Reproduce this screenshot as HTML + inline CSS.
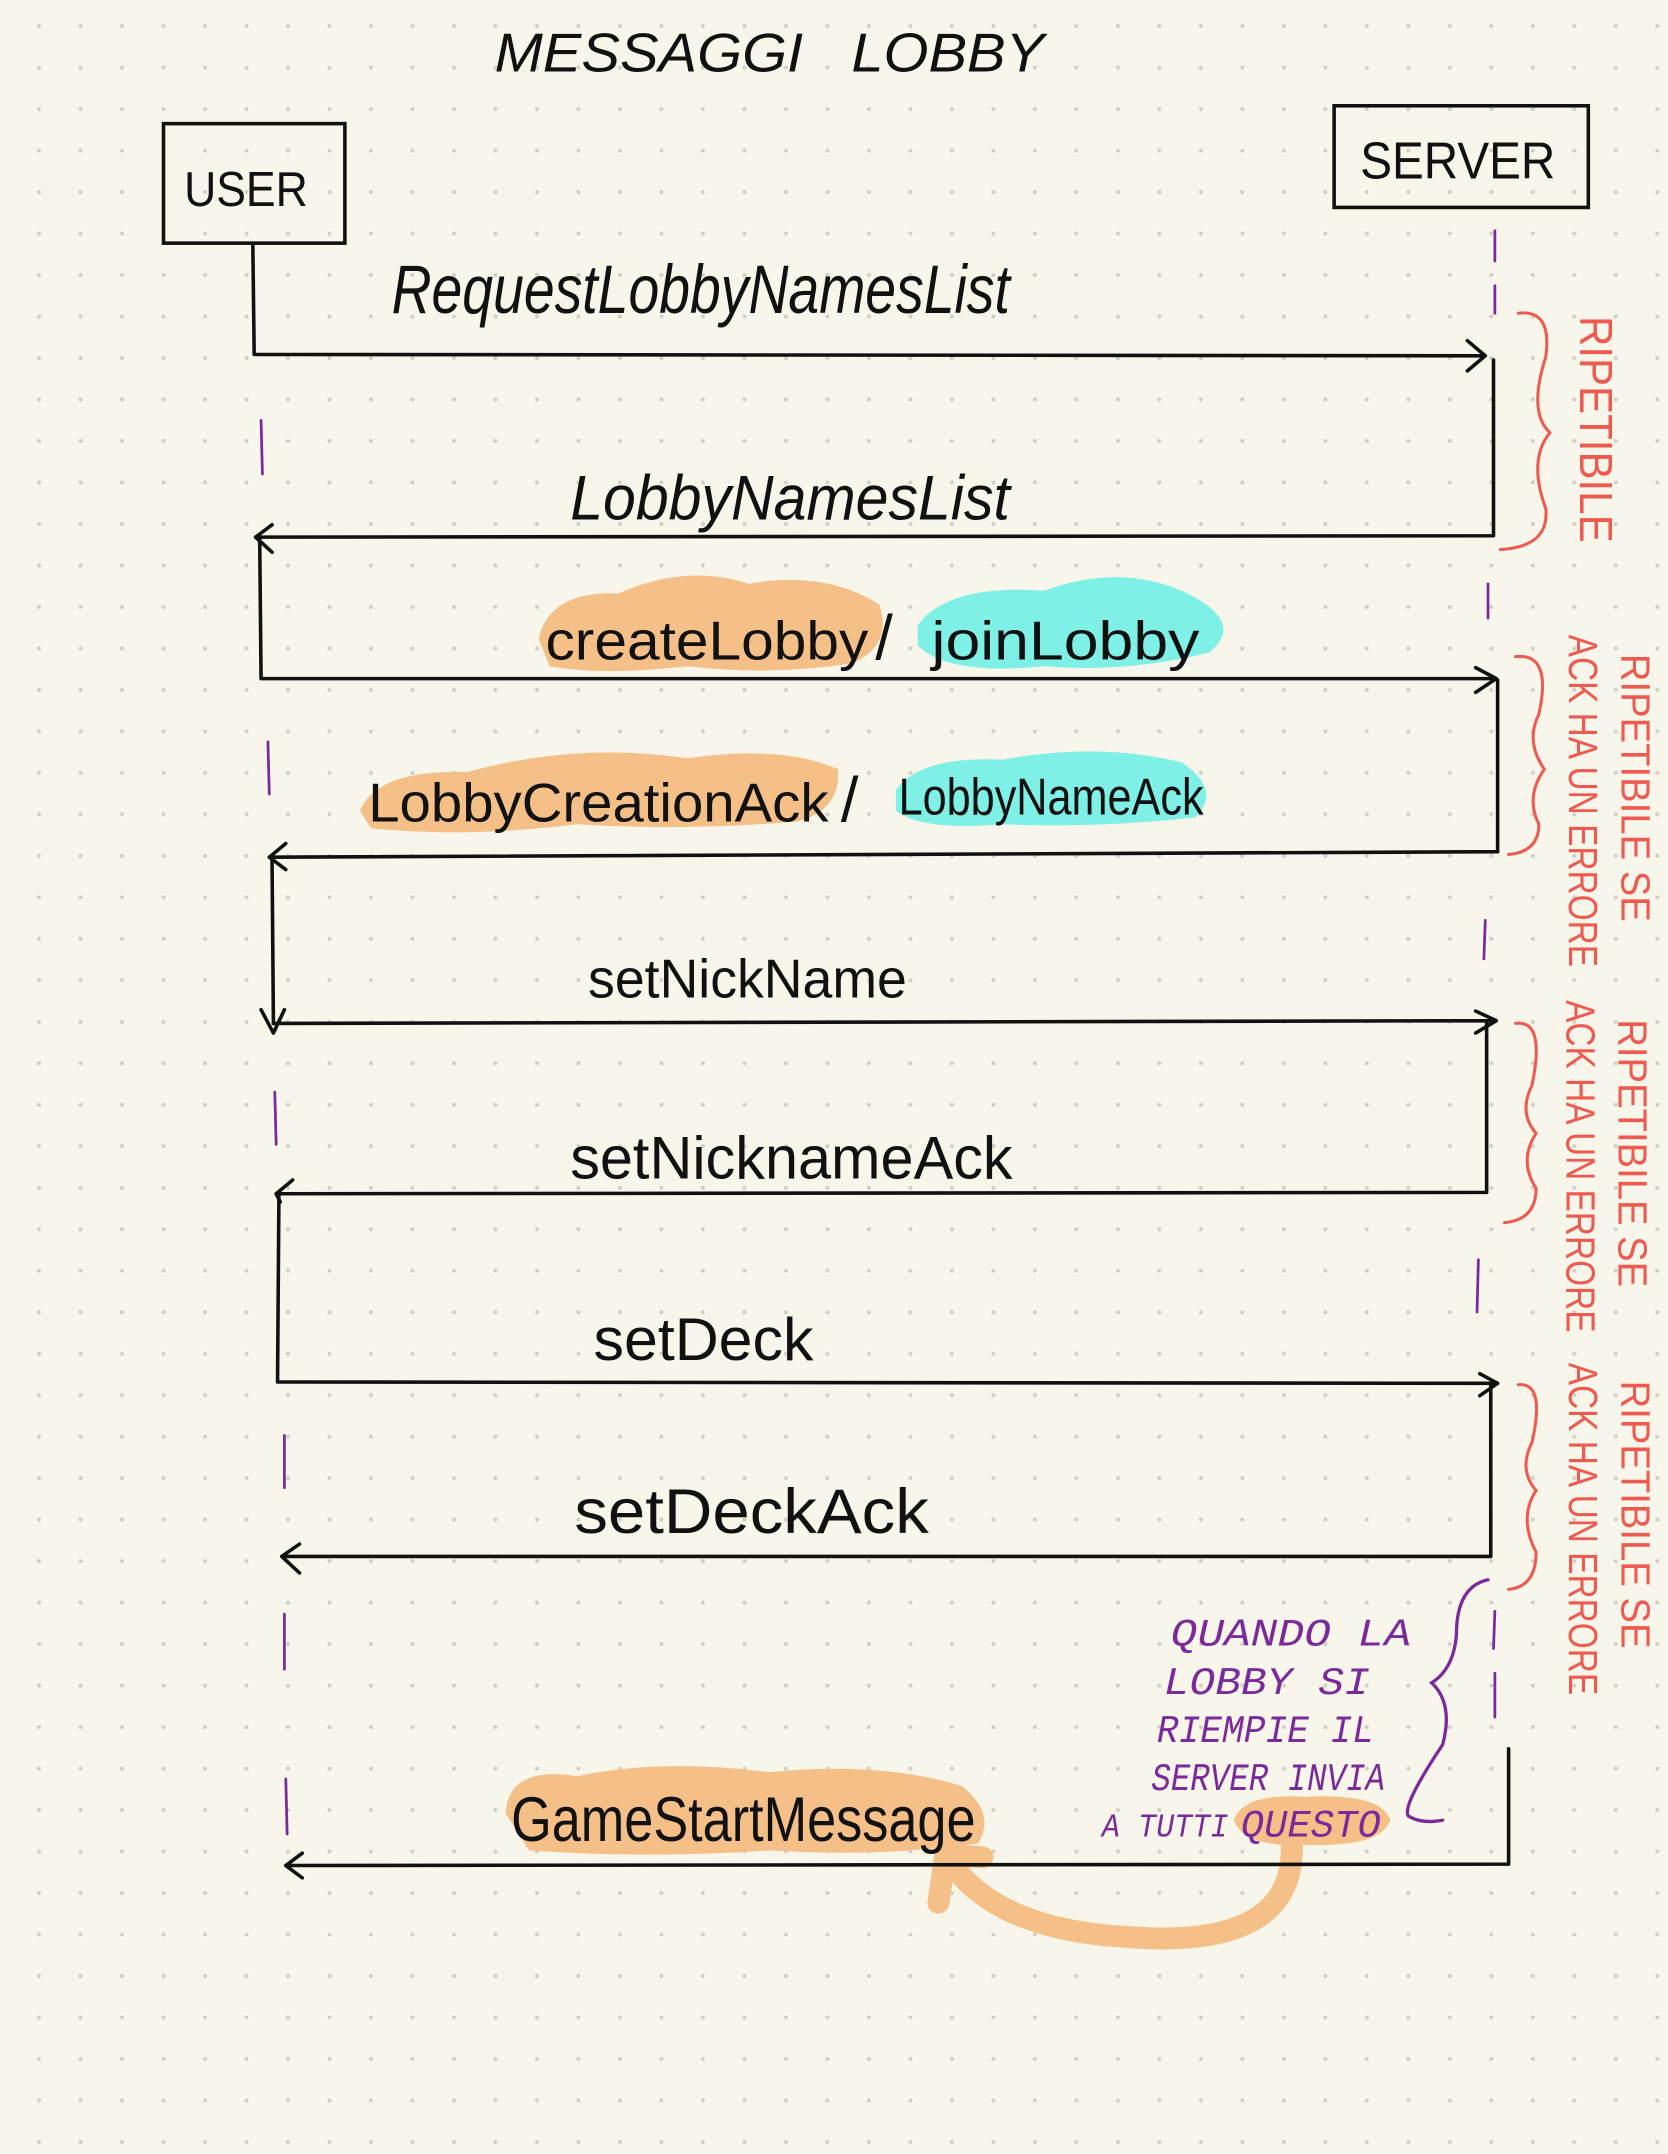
<!DOCTYPE html>
<html><head><meta charset="utf-8"><style>
html,body{margin:0;padding:0;background:#f8f6ea;}
svg{display:block;}
.t{font-family:"Liberation Sans",sans-serif;fill:#111;}
.ln{stroke:#111;stroke-width:2.6;fill:none;stroke-linecap:round;stroke-linejoin:round;}
.dash{stroke:#7a2a9a;stroke-width:2;fill:none;stroke-linecap:round;}
.red{fill:#ee5a50;font-family:"Liberation Sans",sans-serif;}
.rb{stroke:#ee5a50;stroke-width:2.2;fill:none;stroke-linecap:round;}
</style></head><body>
<svg width="1668" height="2154" viewBox="0 0 1214 1568" preserveAspectRatio="none" xmlns="http://www.w3.org/2000/svg">
<defs>
<pattern id="dots" x="28.4" y="19" width="30.2" height="30.2" patternUnits="userSpaceOnUse">
<circle cx="0" cy="0" r="1.5" fill="#d2d0c6"/><circle cx="30.2" cy="0" r="1.5" fill="#d2d0c6"/><circle cx="0" cy="30.2" r="1.5" fill="#d2d0c6"/><circle cx="30.2" cy="30.2" r="1.5" fill="#d2d0c6"/>
</pattern>
</defs>
<rect width="1214" height="1568" fill="#f8f6ea"/>
<rect width="1214" height="1568" fill="url(#dots)"/>

<text class="t" x="360" y="52" font-size="40" font-style="italic" textLength="400" lengthAdjust="spacingAndGlyphs">MESSAGGI&#160;&#160;&#160;LOBBY</text>

<g>
<rect x="119" y="90" width="132" height="87" fill="none" stroke="#111" stroke-width="2.6"/>
<text class="t" x="134" y="150" font-size="36" textLength="90" lengthAdjust="spacingAndGlyphs">USER</text>
</g>
<g>
<rect x="971" y="77" width="185" height="74" fill="none" stroke="#111" stroke-width="2.6"/>
<text class="t" x="990" y="130" font-size="38" textLength="142" lengthAdjust="spacingAndGlyphs">SERVER</text>
</g>

<!-- dashed lifelines -->
<g>
<path class="dash" d="M190 306 L191 345 M195 540 L196 578 M200 795 L201 833 M207 1045 L207 1083 M207 1175 L207 1215 M208 1295 L209 1335"/>
</g>
<g>
<path class="dash" d="M1088 168 L1088 190 M1088 208 L1088 228 M1083 425 L1083 450 M1081 670 L1080 698 M1076 917 L1075 955 M1088 1173 L1087 1200 M1088 1218 L1088 1250"/>
</g>

<!-- highlights -->
<path d="M392 465 Q400 430 450 432 Q500 410 545 425 Q600 415 640 440 Q650 470 620 483 Q560 492 500 485 Q440 492 400 485 Z" fill="#f5c088"/>
<path d="M668 455 Q690 425 760 430 Q820 408 870 435 Q905 455 880 475 Q820 490 760 485 Q690 492 668 470 Z" fill="#7ff0e6"/>
<path d="M262 590 Q275 560 340 562 Q420 540 500 552 Q570 542 610 560 Q612 590 580 598 Q500 605 420 600 Q340 610 270 603 Z" fill="#f5c088"/>
<path d="M652 575 Q670 550 730 553 Q800 540 860 555 Q890 575 870 595 Q800 603 730 600 Q670 605 652 590 Z" fill="#7ff0e6"/>
<path d="M368 1320 Q370 1285 420 1293 Q480 1280 560 1290 Q640 1282 700 1300 Q725 1320 712 1342 Q640 1352 560 1347 Q470 1353 385 1347 Z" fill="#f5c088"/>
<path d="M898 1325 Q905 1305 950 1308 Q1005 1305 1012 1325 Q1005 1345 950 1343 Q905 1345 898 1325 Z" fill="#f5c088"/>
<path d="M940 1340 Q945 1420 820 1410 Q730 1405 695 1360 M683 1385 L688 1350 L715 1352" stroke="#f5c088" stroke-width="16" fill="none" stroke-linecap="round" stroke-linejoin="round"/>

<!-- arrows -->
<g>
<path class="ln" d="M184 177 L185 258 L1080 259 M1068 248 L1081 259 L1068 270"/>
<text class="t" x="285" y="228" font-size="50" font-style="italic" textLength="450" lengthAdjust="spacingAndGlyphs">RequestLobbyNamesList</text>
</g>
<g>
<path class="ln" d="M1087 262 L1087 390 L186 391 M198 382 L186 391 L198 402"/>
<text class="t" x="415" y="378" font-size="46" font-style="italic" textLength="320" lengthAdjust="spacingAndGlyphs">LobbyNamesList</text>
</g>
<g>
<path class="ln" d="M189 391 L190 494 L1088 494 M1074 486 L1089 494 L1074 504"/>
<text class="t" x="397" y="480" font-size="40" textLength="235" lengthAdjust="spacingAndGlyphs">createLobby</text>
<text class="t" x="637" y="480" font-size="46">/</text>
<text class="t" x="678" y="480" font-size="40" textLength="195" lengthAdjust="spacingAndGlyphs">joinLobby</text>
</g>
<g>
<path class="ln" d="M1090 495 L1090 620 L196 624 M208 614 L196 624 L208 633"/>
<text class="t" x="268" y="598" font-size="40" textLength="335" lengthAdjust="spacingAndGlyphs">LobbyCreationAck</text>
<text class="t" x="612" y="598" font-size="46">/</text>
<text class="t" x="654" y="593" font-size="38" textLength="222" lengthAdjust="spacingAndGlyphs">LobbyNameAck</text>
</g>
<g>
<path class="ln" d="M198 626 L199 745 L1088 743 M1074 736 L1089 743 L1074 752 M190 735 L199 752 L207 735"/>
<text class="t" x="428" y="726" font-size="40" textLength="232" lengthAdjust="spacingAndGlyphs">setNickName</text>
</g>
<g>
<path class="ln" d="M1082 745 L1082 868 L201 869 M213 859 L201 869 M201 869 L204 875"/>
<text class="t" x="415" y="858" font-size="44" textLength="322" lengthAdjust="spacingAndGlyphs">setNicknameAck</text>
</g>
<g>
<path class="ln" d="M203 870 L202 1006 L1090 1007 M1077 1000 L1090 1007 L1077 1016"/>
<text class="t" x="432" y="990" font-size="44" textLength="160" lengthAdjust="spacingAndGlyphs">setDeck</text>
</g>
<g>
<path class="ln" d="M1085 1008 L1085 1133 L205 1133 M218 1124 L205 1133 L218 1145"/>
<text class="t" x="418" y="1116" font-size="46" textLength="258" lengthAdjust="spacingAndGlyphs">setDeckAck</text>
</g>
<g>
<path class="ln" d="M1098 1273 L1098 1357 L208 1358 M220 1349 L208 1358 L220 1367"/>
<text class="t" x="372" y="1340" font-size="46" textLength="338" lengthAdjust="spacingAndGlyphs">GameStartMessage</text>
</g>

<!-- red repeatable notes -->
<g>
<path class="rb" d="M1105 228 Q1130 225 1125 260 Q1112 300 1128 315 Q1112 335 1125 370 Q1128 398 1092 400"/>
<text class="red" transform="translate(1150,230) rotate(90)" font-size="34" textLength="165" lengthAdjust="spacingAndGlyphs">RIPETIBILE</text>
</g>
<g>
<path class="rb" d="M1103 478 Q1130 475 1120 520 Q1110 540 1124 560 Q1110 580 1120 600 Q1120 620 1098 622"/>
<text class="red" transform="translate(1180,476) rotate(90)" font-size="30" textLength="195" lengthAdjust="spacingAndGlyphs">RIPETIBILE SE</text>
<text class="red" transform="translate(1142,462) rotate(90)" font-size="30" textLength="242" lengthAdjust="spacingAndGlyphs">ACK HA UN ERRORE</text>
</g>
<g>
<path class="rb" d="M1103 745 Q1125 742 1115 790 Q1105 810 1118 825 Q1105 845 1118 865 Q1118 888 1095 890"/>
<text class="red" transform="translate(1178,742) rotate(90)" font-size="30" textLength="195" lengthAdjust="spacingAndGlyphs">RIPETIBILE SE</text>
<text class="red" transform="translate(1140,728) rotate(90)" font-size="30" textLength="242" lengthAdjust="spacingAndGlyphs">ACK HA UN ERRORE</text>
</g>
<g>
<path class="rb" d="M1105 1008 Q1125 1006 1115 1050 Q1105 1070 1118 1085 Q1105 1105 1118 1130 Q1118 1155 1098 1157"/>
<text class="red" transform="translate(1180,1005) rotate(90)" font-size="30" textLength="195" lengthAdjust="spacingAndGlyphs">RIPETIBILE SE</text>
<text class="red" transform="translate(1142,992) rotate(90)" font-size="30" textLength="242" lengthAdjust="spacingAndGlyphs">ACK HA UN ERRORE</text>
</g>

<!-- purple note -->
<g>
<path d="M1083 1150 Q1060 1155 1060 1190 Q1058 1215 1042 1225 Q1058 1240 1050 1270 Q1020 1315 1025 1322 Q1035 1328 1050 1325" stroke="#7a2a9a" stroke-width="2.4" fill="none" stroke-linecap="round"/>
<g font-family="Liberation Mono,monospace" font-style="italic" fill="#7a2a9a" font-size="28">
<text x="852" y="1198" textLength="175" lengthAdjust="spacingAndGlyphs">QUANDO  LA</text>
<text x="847" y="1233" textLength="150" lengthAdjust="spacingAndGlyphs">LOBBY  SI</text>
<text x="842" y="1268" textLength="158" lengthAdjust="spacingAndGlyphs">RIEMPIE  IL</text>
<text x="838" y="1303" textLength="170" lengthAdjust="spacingAndGlyphs">SERVER INVIA</text>
<text x="802" y="1337" font-size="24" textLength="92" lengthAdjust="spacingAndGlyphs">A TUTTI</text>
<text x="903" y="1337" textLength="102" lengthAdjust="spacingAndGlyphs">QUESTO</text>
</g>
</g>
</svg>
</body></html>
